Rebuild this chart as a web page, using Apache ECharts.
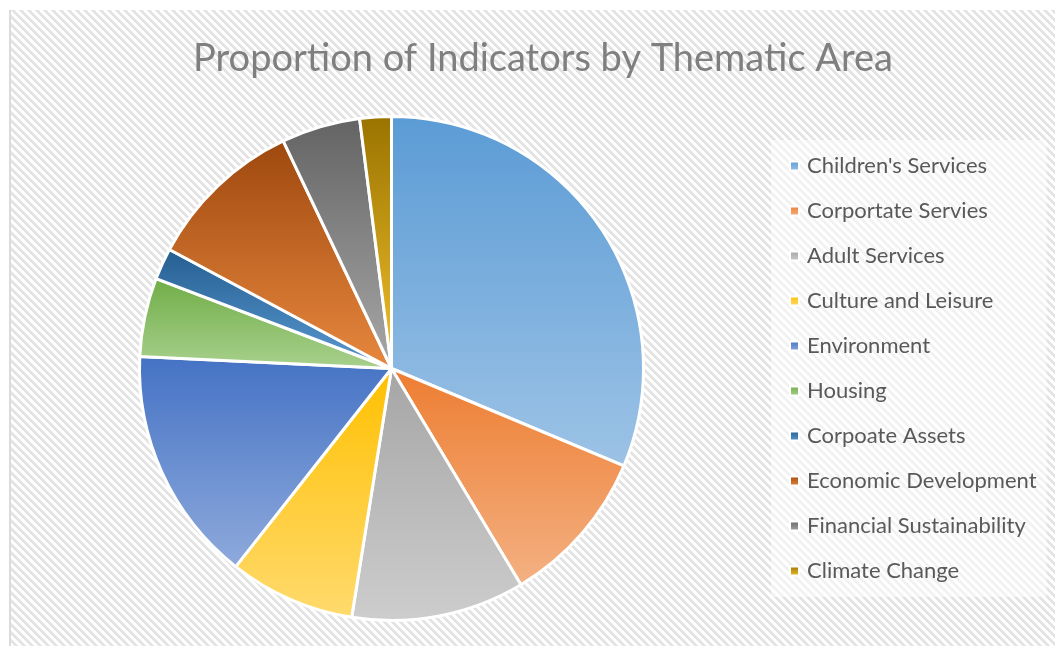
<!DOCTYPE html>
<html>
<head>
<meta charset="utf-8">
<script src="https://cdn.jsdelivr.net/npm/echarts@6/dist/echarts.min.js"></script>
<style>
  html, body { margin: 0; padding: 0; background: #ffffff; }
  #chart { position: absolute; left: 9px; top: 10px; width: 1044px; height: 636px; border-left: 2px solid #dcdcdc; }
</style>
</head>
<body>
<div id="chart"></div>
<script>
const titleText = 'Proportion of Indicators by Thematic Area';
const categories = ["Children's Services", 'Corportate Servies', 'Adult Services', 'Culture and Leisure', 'Environment', 'Housing', 'Corpoate Assets', 'Economic Development', 'Financial Sustainability', 'Climate Change'];
const values = [31, 10, 11, 8, 15, 5, 2, 10, 5, 2];
const topColors = ['#5B9BD5', '#ED7D31', '#A5A5A5', '#FFC000', '#4472C4', '#70AD47', '#255E91', '#9E480E', '#636363', '#997300'];
const bottomColors = ['#9DC3E6', '#F4B183', '#CDCDCD', '#FFDA6E', '#8FAADC', '#A9D18E', '#5A9AD2', '#E8883F', '#A8A8A8', '#F2C12E'];

// striped background tile
const tile = document.createElement('canvas');
tile.width = 8; tile.height = 8;
const tctx = tile.getContext('2d');
tctx.fillStyle = '#ffffff';
tctx.fillRect(0, 0, 8, 8);
tctx.fillStyle = '#e4e4e4';
for (let y = 0; y < 8; y++) {
  for (let x = 0; x < 8; x++) {
    const d = ((x - y) % 8 + 8) % 8;
    if (d < 4) tctx.fillRect(x, y, 1, 1);
  }
}

const chart = echarts.init(document.getElementById('chart'), null, { renderer: 'canvas' });
const data = categories.map((name, i) => ({
  name: name,
  value: values[i],
  itemStyle: {
    color: new echarts.graphic.LinearGradient(0, 0, 0, 1, [
      { offset: 0, color: topColors[i] },
      { offset: 1, color: bottomColors[i] }
    ])
  }
}));

chart.setOption({
  animation: false,
  backgroundColor: { image: tile, repeat: 'repeat' },
  title: {
    text: titleText,
    left: 527,
    textAlign: 'center',
    top: 25,
    textStyle: { fontFamily: 'Lato', fontWeight: 'normal', fontSize: 38, color: '#7f7f7f' }
  },
  legend: {
    orient: 'vertical',
    left: 760,
    top: 130,
    padding: [14, 10, 14, 18],
    backgroundColor: 'rgba(255,255,255,0.5)',
    itemWidth: 9,
    itemHeight: 9,
    itemGap: 21,
    icon: 'rect',
    data: categories,
    textStyle: { fontFamily: 'Lato', fontSize: 22, color: '#595959', lineHeight: 24, padding: [0, 0, 0, 3] }
  },
  series: [{
    type: 'pie',
    center: [380.5, 358.5],
    radius: 252,
    startAngle: 90,
    clockwise: true,
    avoidLabelOverlap: false,
    label: { show: false },
    labelLine: { show: false },
    emphasis: { disabled: true },
    itemStyle: { borderColor: '#ffffff', borderWidth: 3 },
    data: data
  }]
});
</script>
</body>
</html>
